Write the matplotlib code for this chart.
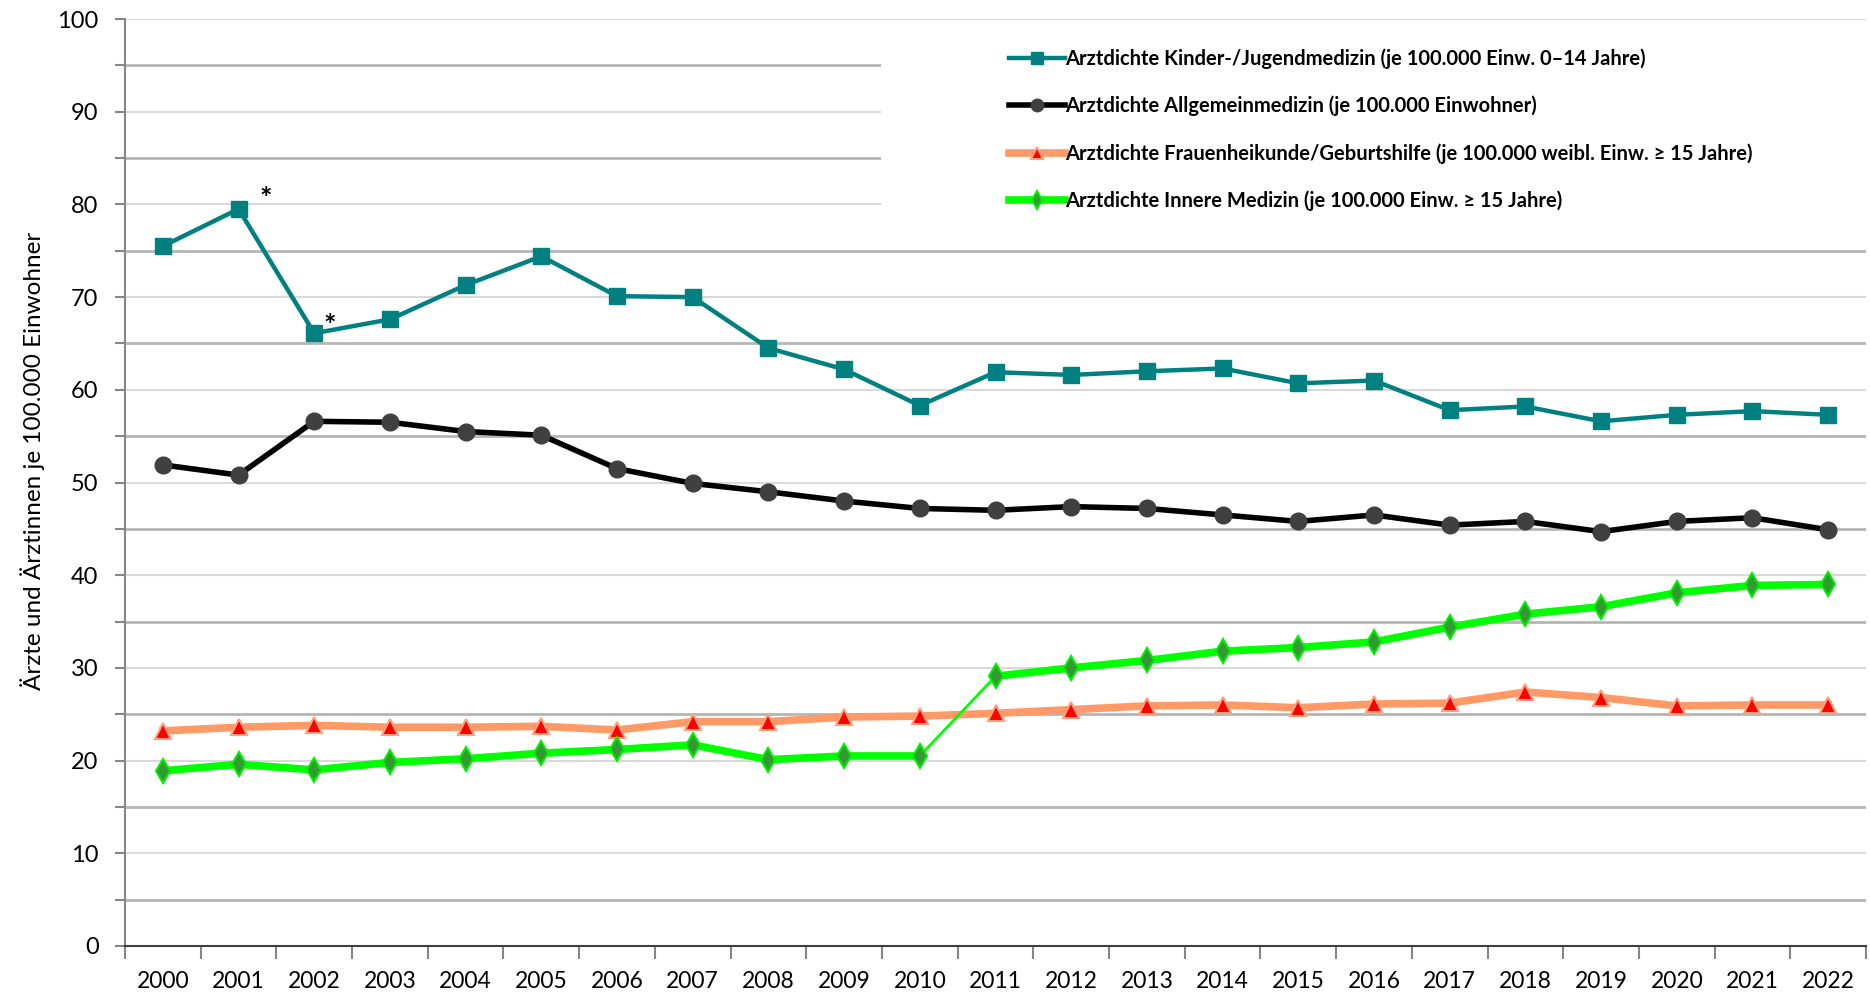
import matplotlib
matplotlib.use("Agg")
import matplotlib.pyplot as plt
import matplotlib.transforms as mtransforms
from matplotlib.patches import Rectangle

years = [str(y) for y in range(2000, 2023)]
kinder = [75.5, 79.5, 66.1, 67.6, 71.3, 74.4, 70.1, 70.0, 64.5, 62.2, 58.3, 61.9,
          61.6, 62.0, 62.3, 60.7, 61.0, 57.8, 58.2, 56.6, 57.3, 57.7, 57.3]
allgemein = [51.9, 50.8, 56.6, 56.5, 55.5, 55.1, 51.5, 49.9, 49.0, 48.0, 47.2, 47.0,
             47.4, 47.2, 46.5, 45.8, 46.5, 45.4, 45.8, 44.7, 45.8, 46.2, 44.9]
frauen = [23.2, 23.6, 23.8, 23.6, 23.6, 23.7, 23.3, 24.2, 24.2, 24.7, 24.8, 25.1,
          25.5, 25.9, 26.0, 25.7, 26.1, 26.2, 27.4, 26.8, 25.9, 26.0, 26.0]
innere = [18.9, 19.6, 19.0, 19.8, 20.2, 20.8, 21.2, 21.7, 20.1, 20.5, 20.5, 29.1,
          30.0, 30.8, 31.8, 32.2, 32.8, 34.4, 35.8, 36.6, 38.1, 38.9, 39.0]

labels = ["Arztdichte Kinder-/Jugendmedizin (je 100.000 Einw. 0–14 Jahre)",
          "Arztdichte Allgemeinmedizin (je 100.000 Einwohner)",
          "Arztdichte Frauenheikunde/Geburtshilfe (je 100.000 weibl. Einw. ≥ 15 Jahre)",
          "Arztdichte Innere Medizin (je 100.000 Einw. ≥ 15 Jahre)"]
ylabel = "Ärzte und Ärztinnen je 100.000 Einwohner"

plt.rcParams['font.family'] = ['Lato', 'DejaVu Sans']

fig = plt.figure(figsize=(18.7, 9.93), dpi=100)
ax = fig.add_axes([125/1870, 1-946/993, (1866-125)/1870, (946-19)/993])

x = list(range(len(years)))
ax.set_xlim(-0.5, len(years) - 0.5)
ax.set_ylim(0, 100)

# gridlines
for v in range(5, 101, 5):
    if v % 10 == 0:
        ax.axhline(v, color='#d9d9d9', lw=1.5, zorder=1)
    else:
        ax.axhline(v, color='#b5b5b5', lw=2.0, zorder=1)

# white area behind legend
trans = mtransforms.blended_transform_factory(ax.transAxes, ax.transData)
ax.add_patch(Rectangle(((881-125)/1741, 76.3), 1.0, 22.5, transform=trans,
                       facecolor='white', edgecolor='none', zorder=2))

l1, = ax.plot(x, kinder, color='#008080', lw=3.2, marker='s', ms=11.5,
              mfc='#008080', mec='#008080', zorder=5)
l2, = ax.plot(x, allgemein, color='black', lw=4.0, marker='o', ms=12,
              mfc='#404040', mec='#404040', zorder=5)
l3, = ax.plot(x, frauen, color='#ff9966', lw=5.5, marker='^', ms=12,
              mfc='#ff0000', mec='#ffa07a', mew=1.5, zorder=4)
ax.plot(x[10:12], innere[10:12], color='#00ff00', lw=2.0, zorder=4)
l4, = ax.plot(x[:11], innere[:11], color='#00ff00', lw=5.5, marker='d', ms=12,
              mfc='#339933', mec='#00ee00', mew=1.5, zorder=4)
ax.plot(x[11:], innere[11:], color='#00ff00', lw=5.5, marker='d', ms=12,
        mfc='#339933', mec='#00ee00', mew=1.5, zorder=4)

ax.text(1.36, 80.6, '*', fontsize=21, fontweight='bold', ha='center', va='center', zorder=6)
ax.text(2.2, 66.9, '*', fontsize=21, fontweight='bold', ha='center', va='center', zorder=6)

# axes styling
for s in ['top', 'right']:
    ax.spines[s].set_visible(False)
ax.spines['left'].set_color('#868686')
ax.spines['left'].set_linewidth(1.5)
ax.spines['bottom'].set_color('#404040')
ax.spines['bottom'].set_linewidth(1.5)

ax.set_xticks(x)
ax.set_xticklabels(years, fontsize=16.5)
ax.tick_params(axis='x', which='major', length=0, pad=18)
ax.set_xticks([i - 0.5 for i in range(len(years) + 1)], minor=True)
ax.tick_params(axis='x', which='minor', length=9, width=1.5, color='#868686', direction='out')

ax.set_yticks(range(0, 101, 10))
ax.set_yticklabels([str(v) for v in range(0, 101, 10)], fontsize=17)
ax.set_yticks(range(5, 100, 10), minor=True)
ax.tick_params(axis='y', which='both', length=7, width=1.5, color='#868686', direction='out', pad=12)

ax.set_ylabel(ylabel, fontsize=17.5)
ax.yaxis.set_label_coords(-0.046, 0.523)

leg = ax.legend([l1, l2, l3, l4], labels, loc='upper left',
                bbox_to_anchor=((843-105)/1460 - 0.008, 0.988), frameon=False,
                prop={'weight': 'bold', 'size': 14.5}, numpoints=1,
                handlelength=2.75, handletextpad=0.0, labelspacing=1.33,
                markerscale=0.75)

fig.savefig('out.png', dpi=100)
